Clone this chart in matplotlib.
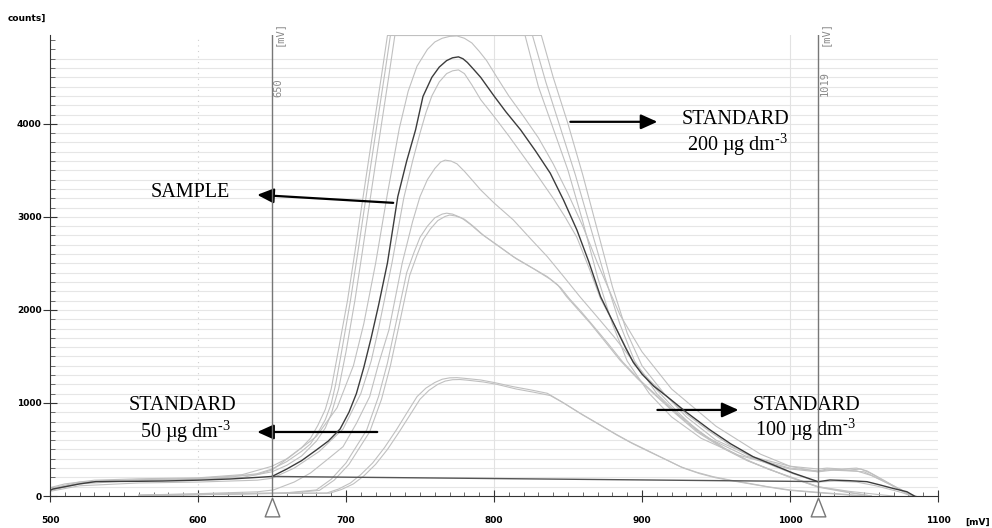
import matplotlib
matplotlib.use("Agg")
import matplotlib.pyplot as plt
from matplotlib.path import Path
import matplotlib.ticker as mticker

plt.rcParams['mathtext.fontset'] = 'custom'
plt.rcParams['mathtext.rm'] = 'Liberation Serif'

# ---- data (mV, counts) ----
std200_a_mv = [500, 510, 530, 560, 600, 630, 650, 660, 670, 676, 681, 686, 690, 695, 701, 706, 710, 715, 719, 724, 728,
               832, 840, 850, 860, 870, 880, 890, 900, 915, 930, 950, 975, 1000, 1019, 1025, 1035, 1045,
               1052, 1060, 1070, 1080, 1085]
std200_a_counts = [90, 130, 170, 185, 195, 230, 320, 400, 520, 620, 760, 930, 1150, 1580, 2100, 2620, 3050, 3580, 4000,
                   4520, 4950,
                   4950, 4500, 4000, 3450, 2850, 2250, 1750, 1400, 1100, 850, 600, 420, 320, 290, 300, 290, 300,
                   270, 200, 110, 20, 0]

std200_b_mv = [500, 520, 540, 580, 620, 640, 650, 660, 670, 676, 681, 686, 690, 693, 697, 703, 708, 712, 717, 721, 726,
               730,
               826, 835, 845, 855, 865, 875, 885, 895, 910, 925, 945, 970, 1000, 1019, 1025, 1040, 1048,
               1055, 1065, 1075, 1082]
std200_b_counts = [70, 140, 165, 175, 200, 240, 290, 370, 480, 560, 680, 820, 990, 1200, 1550, 2100, 2620, 3050, 3580,
                   4000, 4520, 4950,
                   4950, 4450, 3950, 3450, 2900, 2350, 1850, 1450, 1100, 870, 620, 430, 300, 270, 290, 280, 290,
                   240, 150, 60, 0]

std200_c_mv = [500, 520, 550, 600, 630, 650, 660, 670, 680, 686, 690, 695, 700, 706, 711, 715, 720, 724, 729, 733,
               821, 830, 840, 850, 860, 870, 880, 890, 905, 920, 940, 965, 1000, 1019, 1030, 1045,
               1055, 1068, 1080, 1085]
std200_c_counts = [60, 130, 160, 180, 200, 260, 330, 430, 590, 730, 880, 1150, 1550, 2100, 2620, 3050, 3580, 4000,
                   4520, 4950,
                   4950, 4400, 3950, 3500, 2950, 2350, 1850, 1450, 1100, 850, 620, 440, 290, 260, 280, 270,
                   220, 120, 20, 0]

sample_hi_mv = [500, 520, 560, 600, 640, 650, 662, 680, 694, 705, 712, 720, 728, 736, 742, 748, 755, 760, 765,
                770, 775, 780, 785, 790, 795, 802, 810, 820, 830, 840, 850, 860, 870, 885, 900, 920, 950, 980,
                1000, 1019, 1025, 1040, 1050, 1062, 1075, 1083]
sample_hi_counts = [80, 150, 175, 190, 230, 280, 420, 640, 950, 1400, 1850, 2500, 3250, 3950, 4350, 4620, 4800, 4880,
                    4920, 4940, 4945, 4920, 4870, 4780, 4680, 4500, 4300, 4080, 3850, 3570, 3250, 2900, 2500, 1950,
                    1550, 1150, 750, 450, 320, 260, 280, 270, 260, 170, 70, 0]

sample_mv = [500, 502, 520, 531, 560, 576, 600, 622, 640, 650, 660, 670, 680, 688, 696, 702, 707, 712, 717, 722, 728,
             735, 741, 747, 752, 758, 763, 768, 772, 776, 779, 782, 786, 791, 800, 808, 818, 828, 838, 847, 856,
             864, 872, 883, 889, 894, 900, 908, 917, 930, 946, 960, 975, 1002, 1019, 1027, 1040, 1052, 1061, 1070,
             1079, 1084]
sample_counts = [60, 75, 130, 155, 158, 161, 170, 183, 200, 210, 290, 380, 495, 590, 720, 900, 1100, 1380, 1700, 2050,
                 2505, 3218, 3600, 3935, 4294, 4500, 4610, 4680, 4710, 4720, 4700, 4660, 4590, 4500, 4300, 4130, 3935,
                 3710, 3470, 3180, 2860, 2520, 2143, 1785, 1590, 1440, 1310, 1180, 1068, 900, 710, 560, 423, 247, 154,
                 172, 165, 154, 118, 80, 46, 0]

sample_lo_mv = [500, 520, 560, 600, 640, 650, 665, 682, 698, 710, 717, 722, 731, 739, 745, 750, 754, 758, 763, 768,
                772, 776, 780, 785, 791, 800, 810, 820, 830, 840, 848, 856, 864, 872, 884, 895, 906, 918, 930,
                946, 960, 975, 1002, 1019, 1030, 1045, 1058, 1075, 1082]
sample_lo_counts = [50, 110, 140, 150, 170, 190, 300, 480, 720, 1100, 1450, 1800, 2500, 3200, 3600, 3900, 4120, 4300,
                    4450, 4540, 4570, 4580, 4540, 4420, 4260, 4080, 3870, 3650, 3430, 3200, 3000, 2780, 2460, 2120,
                    1760, 1410, 1230, 1050, 880, 690, 540, 410, 240, 150, 160, 150, 110, 40, 0]

std100_a_mv = [560, 600, 640, 651, 665, 676, 688, 698, 707, 716, 722, 729, 738, 745, 750, 755, 760, 764, 767,
               771, 775, 780, 785, 791, 800, 813, 825, 836, 847, 858, 870, 881, 890, 899, 910, 923, 937, 955,
               971, 985, 1000, 1019, 1040, 1060, 1070]
std100_a_counts = [10, 25, 45, 65, 150, 247, 400, 530, 780, 1068, 1420, 1785, 2505, 2950, 3218, 3400, 3520, 3590, 3610,
                   3600, 3570, 3490, 3400, 3290, 3150, 2968, 2760, 2573, 2360, 2143, 1920, 1713, 1530, 1355, 1140,
                   920, 710, 520, 387, 290, 208, 100, 50, 15, 0]

std100_b_mv = [560, 620, 660, 680, 690, 700, 714, 722, 728, 735, 741, 746, 750, 755, 760, 765, 768, 772, 778,
               784, 791, 800, 813, 825, 836, 843, 849, 857, 865, 875, 885, 897, 910, 923, 937, 955, 971, 1000,
               1019, 1040, 1055]
std100_b_counts = [5, 20, 35, 65, 180, 355, 710, 1070, 1430, 1950, 2400, 2620, 2780, 2900, 2990, 3030, 3040, 3030, 2990,
                   2920, 2824, 2720, 2573, 2460, 2358, 2270, 2143, 2000, 1857, 1660, 1462, 1260, 1068, 880, 690, 510,
                   380, 200, 100, 40, 0]

std100_c_mv = [560, 620, 660, 682, 692, 702, 716, 724, 730, 737, 743, 748, 752, 757, 762, 767, 770, 774, 780,
               786, 793, 802, 815, 827, 838, 845, 851, 859, 867, 877, 887, 899, 912, 925, 939, 957, 973, 1002,
               1019, 1040, 1055]
std100_c_counts = [5, 20, 30, 60, 170, 340, 690, 1040, 1400, 1920, 2370, 2590, 2750, 2870, 2960, 3005, 3020, 3010, 2975,
                   2900, 2800, 2700, 2550, 2440, 2330, 2240, 2120, 1980, 1830, 1640, 1440, 1240, 1050, 860, 680, 500,
                   370, 190, 95, 35, 0]

std50_a_mv = [560, 600, 640, 660, 687, 695, 703, 710, 718, 726, 734, 741, 748, 754, 760, 765, 770, 775, 780,
              791, 800, 813, 825, 836, 845, 858, 870, 881, 892, 903, 915, 926, 937, 948, 960, 971, 985, 1000,
              1019, 1040, 1050]
std50_a_counts = [10, 20, 30, 30, 32, 75, 140, 230, 355, 520, 710, 890, 1068, 1160, 1220, 1255, 1270, 1272, 1265,
                  1247, 1220, 1175, 1140, 1104, 1020, 892, 780, 677, 580, 495, 400, 315, 255, 208, 170, 140, 100, 65,
                  40, 15, 0]

std50_b_mv = [560, 600, 640, 660, 689, 697, 705, 712, 720, 728, 736, 743, 750, 756, 762, 767, 772, 777, 782,
              793, 802, 815, 827, 838, 847, 860, 872, 883, 894, 905, 917, 928, 939, 950, 962, 973, 987, 1000,
              1019, 1040, 1050]
std50_b_counts = [5, 15, 25, 28, 30, 70, 130, 215, 340, 500, 690, 865, 1040, 1135, 1200, 1235, 1250, 1252, 1245,
                  1225, 1200, 1150, 1115, 1080, 1000, 870, 760, 655, 560, 475, 385, 300, 240, 195, 160, 130, 92, 60,
                  35, 10, 0]

baseline_mv = [650, 1019]
baseline_counts = [210, 155]

light_curves = [(std200_a_mv, std200_a_counts), (std200_b_mv, std200_b_counts),
                (std200_c_mv, std200_c_counts), (sample_hi_mv, sample_hi_counts),
                (sample_lo_mv, sample_lo_counts), (std100_a_mv, std100_a_counts),
                (std100_b_mv, std100_b_counts), (std100_c_mv, std100_c_counts),
                (std50_a_mv, std50_a_counts), (std50_b_mv, std50_b_counts)]

marker_mv = [650, 1019]
marker_labels = ["650", "1019"]

# ---- figure ----
fig = plt.figure(figsize=(9.92, 5.28), dpi=100)
ax = fig.add_axes([50 / 992, 1 - 496 / 528, 888 / 992, 461 / 528])
ax.set_xlim(500, 1100)
ax.set_ylim(0, 4955)

# grid
for c in range(100, 4800, 100):
    ax.axhline(c, color='#e6e6e6', lw=0.8, zorder=0)
ax.axvline(600, color='#d0d0d0', lw=0.8, ls=(0, (1, 4)), zorder=0)
ax.axvline(800, color='#e2e2e2', lw=0.8, zorder=0)
ax.axvline(1000, color='#e2e2e2', lw=0.8, zorder=0)

# traces
for mv, cnt in light_curves:
    ax.plot(mv, cnt, color='#c0c0c0', lw=0.8, zorder=2)
ax.plot(sample_mv, sample_counts, color='#3c3c3c', lw=1.0, zorder=4)
ax.plot(baseline_mv, baseline_counts, color='#555555', lw=1.0, zorder=3)

# integration markers
tri = Path([(0, 1), (-0.78, -1), (0.78, -1), (0, 1)],
           [Path.MOVETO, Path.LINETO, Path.LINETO, Path.CLOSEPOLY])
trans = ax.get_xaxis_transform()
for mv, lab in zip(marker_mv, marker_labels):
    ax.axvline(mv, color='#777777', lw=1.0, zorder=5)
    ax.plot([mv], [-0.0228], marker=tri, markersize=13.5, markerfacecolor='white',
            markeredgecolor='#777777', markeredgewidth=1.0, transform=trans, clip_on=False, zorder=6)
    ax.text(mv + 4.5, 1.003, "[mV]", rotation=90, transform=trans, ha='center', va='center',
            fontsize=7.5, color='#8a8a8a', family='DejaVu Sans Mono')
    ax.text(mv + 4.5, 0.885 if lab == "650" else 0.895, lab, rotation=90, transform=trans,
            ha='center', va='center', fontsize=7.5, color='#8a8a8a', family='DejaVu Sans Mono')

# axes styling
for s in ['top', 'right']:
    ax.spines[s].set_visible(False)
for s in ['left', 'bottom']:
    ax.spines[s].set_color('#333333')
    ax.spines[s].set_linewidth(0.8)

ax.xaxis.set_major_locator(mticker.MultipleLocator(100))
ax.xaxis.set_minor_locator(mticker.MultipleLocator(10))
ax.yaxis.set_major_locator(mticker.MultipleLocator(1000))
ax.yaxis.set_minor_locator(mticker.MultipleLocator(100))
ax.tick_params(axis='x', which='major', direction='inout', length=8.5, width=0.8, pad=10,
               labelsize=6.5, colors='#333333', labelcolor='black')
ax.tick_params(axis='x', which='minor', direction='in', length=3, width=0.6, colors='#555555')
ax.tick_params(axis='y', which='major', direction='inout', length=10, width=0.8, pad=1,
               labelsize=6.5, colors='#333333', labelcolor='black')
ax.tick_params(axis='y', which='minor', direction='in', length=3.5, width=0.6, colors='#555555')
for t in ax.get_xticklabels() + ax.get_yticklabels():
    t.set_fontweight('bold')

fig.text(26.5 / 992, 1 - 18.5 / 528, "counts]", ha='center', va='center', fontsize=6.5, fontweight='bold')
fig.text(990 / 992, 1 - 522 / 528, "[mV]", ha='right', va='center', fontsize=6.5, fontweight='bold')

# annotations
serif = 'Liberation Serif'
arr = dict(arrowstyle='-|>,head_length=1.0,head_width=0.45', color='black', lw=1.6, shrinkA=0, shrinkB=0)

ax.text(962.8, 4043, "STANDARD", ha='center', va='center', fontsize=14.5, family=serif)
ax.text(964.5, 3774, r"200 µg dm$^{\text{-3}}$", ha='center', va='center', fontsize=14.5, family=serif)
ax.annotate("", xy=(910.4, 4022), xytext=(851.6, 4022), arrowprops=arr)

ax.text(594.7, 3258, "SAMPLE", ha='center', va='center', fontsize=14.5, family=serif)
ax.annotate("", xy=(640, 3237), xytext=(731.9, 3151), arrowprops=arr)

ax.text(589.2, 968, "STANDARD", ha='center', va='center', fontsize=14.5, family=serif)
ax.text(591.3, 688, r"50 µg dm$^{\text{-3}}$", ha='center', va='center', fontsize=14.5, family=serif)
ax.annotate("", xy=(640, 688), xytext=(721.1, 688), arrowprops=arr)

ax.text(1011.2, 978, "STANDARD", ha='center', va='center', fontsize=14.5, family=serif)
ax.text(1010.5, 710, r"100 µg dm$^{\text{-3}}$", ha='center', va='center', fontsize=14.5, family=serif)
ax.annotate("", xy=(965.2, 925), xytext=(910.4, 925), arrowprops=arr)

fig.savefig("out.png", dpi=100)
